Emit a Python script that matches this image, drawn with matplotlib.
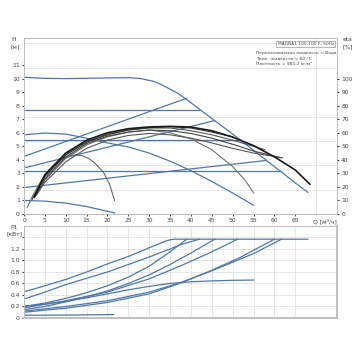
import matplotlib.pyplot as plt
import numpy as np

BLUE = '#4f78a8'

# control curves H(Q) (blue, upper)
q_max = [0, 5, 10, 15, 20, 25, 28, 31, 33, 35, 37, 39, 45, 50, 55, 60, 65, 68]
h_max = [10.1, 10.02, 10.0, 10.02, 10.05, 10.07, 10.0, 9.8, 9.55, 9.22, 8.88, 8.45, 7.05, 5.9, 4.7, 3.5, 2.3, 1.6]
q_pp1 = [0, 39]
h_pp1 = [4.25, 8.55]
q_cp1 = [0, 42]
h_cp1 = [7.7, 7.7]
q_auto = [0, 5, 10, 15, 20, 25, 30, 35, 40, 45, 50, 55]
h_auto = [5.85, 5.98, 5.9, 5.6, 5.25, 4.95, 4.5, 3.9, 3.2, 2.4, 1.55, 0.65]
q_cp2 = [0, 51.2]
h_cp2 = [5.5, 5.5]
q_pp2 = [0, 45.7]
h_pp2 = [3.4, 6.9]
q_cp3 = [0, 61.7]
h_cp3 = [3.15, 3.15]
q_pp3 = [0, 58]
h_pp3 = [1.95, 3.95]
q_min = [0, 5, 10, 15, 20, 21.7]
h_min = [1.0, 0.95, 0.8, 0.55, 0.2, 0.08]

# duty curves (black and grey, upper)
q_c0 = [2.5, 5, 10, 15, 20, 25, 30, 35, 40, 45, 50, 55, 60, 65, 68.5]
h_c0 = [1.3, 2.9, 4.5, 5.45, 6.0, 6.3, 6.43, 6.47, 6.42, 6.15, 5.68, 5.05, 4.22, 3.25, 2.2]
q_c1 = [2.5, 5, 10, 15, 20, 25, 30, 35, 40, 45, 50, 55, 57.7]
h_c1 = [1.35, 2.85, 4.4, 5.35, 5.9, 6.2, 6.35, 6.35, 6.15, 5.85, 5.45, 5.0, 4.75]
q_c2 = [2.5, 5, 10, 15, 20, 25, 30, 35, 40, 45, 50, 55, 61.5]
h_c2 = [1.2, 2.6, 4.2, 5.2, 5.75, 6.05, 6.2, 6.15, 5.95, 5.6, 5.15, 4.65, 4.15]
q_c3 = [3, 5, 10, 15, 20, 25, 30, 35, 40, 45, 50, 53, 55]
h_c3 = [1.45, 2.5, 4.1, 5.1, 5.7, 6.05, 6.2, 6.0, 5.55, 4.75, 3.5, 2.5, 1.55]
q_c4 = [3, 5, 10, 15, 20, 25, 30, 35, 40, 45, 50, 55, 60, 62]
h_c4 = [1.4, 2.35, 3.85, 4.85, 5.45, 5.8, 5.95, 5.85, 5.6, 5.25, 4.85, 4.5, 4.25, 4.15]
q_c5 = [2, 5, 10, 15, 20, 25, 30, 35, 40, 45, 50]
h_c5 = [1.1, 2.75, 4.35, 5.3, 5.85, 6.2, 6.38, 6.45, 6.35, 6.05, 5.7]
q_c6 = [0.8, 2, 4, 6, 8, 10, 11.5, 12.5, 14, 15.5, 17, 19, 20.5, 21.7]
h_c6 = [0.5, 1.3, 2.4, 3.25, 3.85, 4.2, 4.33, 4.37, 4.3, 4.1, 3.75, 3.1, 2.2, 1.0]

# power P1(Q) (blue, lower)
p_max_q = [0, 5, 10, 15, 20, 25, 30, 33, 34, 35, 36, 68]
p_max = [0.455, 0.56, 0.67, 0.8, 0.94, 1.07, 1.22, 1.31, 1.34, 1.36, 1.37, 1.37]
p_cp1_q = [0, 5, 10, 15, 20, 25, 30, 35, 37.3, 42]
p_cp1 = [0.33, 0.45, 0.58, 0.69, 0.8, 0.93, 1.06, 1.2, 1.27, 1.37]
p_pp1_q = [0, 5, 10, 15, 20, 25, 30, 35, 39]
p_pp1 = [0.2, 0.26, 0.34, 0.44, 0.56, 0.71, 0.9, 1.15, 1.37]
p_pp2_q = [0, 5, 10, 15, 20, 25, 30, 35, 40, 45.7]
p_pp2 = [0.145, 0.2, 0.28, 0.37, 0.47, 0.6, 0.75, 0.93, 1.13, 1.37]
p_cp2_q = [0, 10, 20, 30, 37.3, 45, 51.2]
p_cp2 = [0.175, 0.3, 0.45, 0.68, 0.9, 1.15, 1.37]
p_auto_q = [0, 5, 10, 15, 20, 25, 30, 35, 40, 45, 50, 55]
p_auto = [0.205, 0.24, 0.29, 0.35, 0.42, 0.49, 0.55, 0.6, 0.63, 0.645, 0.655, 0.66]
p_cp3_q = [0, 10, 20, 30, 37.3, 45, 55, 61.7]
p_cp3 = [0.12, 0.2, 0.3, 0.45, 0.61, 0.82, 1.12, 1.37]
p_pp3_q = [0, 10, 20, 30, 37.3, 45, 52, 60]
p_pp3 = [0.1, 0.17, 0.27, 0.42, 0.6, 0.83, 1.06, 1.37]
p_min_q = [0, 10, 21.5]
p_min = [0.047, 0.05, 0.06]

q_ticks = list(range(0, 70, 5))
h_ticks = list(range(0, 12))
eta_ticks = list(range(0, 110, 10))
p_ticks = [0, 0.2, 0.4, 0.6, 0.8, 1.0, 1.2, 1.4]
p_labels = ['0', '0.2', '0.4', '0.6', '0.8', '1.0', '1.2', '']

info_title = 'MAGNA1 100-100 F, 50Hz'
info_lines = ['Перекачиваемая жидкость = Вода',
              'Темп. жидкости = 60 °C',
              'Плотность = 983.2 кг/м³']

fs = 4.3
fs_info = 3.2
txt = '#444444'

fig = plt.figure(figsize=(3.6, 3.6), dpi=100)
fig.patch.set_facecolor('white')

ax = fig.add_axes([0.0667, 0.4056, 0.8694, 0.4889])
ax.set_xlim(0, 75)
ax.set_ylim(0, 13)
ax.set_xticks(q_ticks)
ax.set_yticks(h_ticks)
ax.set_xticks(np.arange(0, 75, 5), minor=True)
ax.set_yticks(np.arange(0, 13, 1.8), minor=True)
ax.grid(which='minor', color='#e2e2e2', lw=0.6)
ax.tick_params(which='major', labelsize=fs, length=1.5, pad=1.5, colors=txt)
ax.tick_params(which='minor', length=0)
for s in ax.spines.values():
    s.set_color('#bbbbbb')
    s.set_linewidth(0.7)

for q, h in [(q_max, h_max), (q_pp1, h_pp1), (q_cp1, h_cp1), (q_auto, h_auto),
             (q_cp2, h_cp2), (q_pp2, h_pp2), (q_cp3, h_cp3), (q_pp3, h_pp3),
             (q_min, h_min)]:
    ax.plot(q, h, color=BLUE, lw=0.9)

for q, h, c in [(q_c6, h_c6, '#666666'), (q_c3, h_c3, '#707070'),
                (q_c4, h_c4, '#555555'), (q_c2, h_c2, '#444444'),
                (q_c1, h_c1, '#555555'), (q_c5, h_c5, '#333333')]:
    ax.plot(q, h, color=c, lw=0.8)
ax.plot(q_c0, h_c0, color='#1a1a1a', lw=1.2)

ax2 = ax.twinx()
ax2.set_ylim(0, 130)
ax2.set_yticks(eta_ticks)
ax2.tick_params(labelsize=fs, length=1.5, pad=1.5, colors=txt)
for s in ax2.spines.values():
    s.set_visible(False)

ax.text(72, -0.35, 'Q [м³/ч]', fontsize=fs, color=txt, ha='center', va='top')

# info box
ax.text(74.3, 12.55, info_title, fontsize=fs_info, color=txt, ha='right', va='center',
        bbox=dict(boxstyle='square,pad=0.3', fc='white', ec='#aaaaaa', lw=0.6))
for i, line in enumerate(info_lines):
    ax.text(55.5, 11.9 - i * 0.4, line, fontsize=fs_info, color=txt, ha='left', va='center')

fig.text(0.039, 0.886, 'H', fontsize=fs, color=txt, ha='center')
fig.text(0.041, 0.866, '[м]', fontsize=fs, color=txt, ha='center')
fig.text(0.965, 0.886, 'eta', fontsize=fs, color=txt, ha='center')
fig.text(0.967, 0.866, '[%]', fontsize=fs, color=txt, ha='center')

bx = fig.add_axes([0.0667, 0.1167, 0.8694, 0.2556])
bx.set_xlim(0, 75)
bx.set_ylim(0, 1.6)
bx.set_xticks(q_ticks)
bx.set_xticklabels([])
bx.set_yticks(p_ticks)
bx.set_yticklabels(p_labels)
bx.grid(color='#e2e2e2', lw=0.6)
bx.tick_params(labelsize=fs, length=1.5, pad=1.5, colors=txt)
bx.tick_params(axis='x', length=0)
for s in bx.spines.values():
    s.set_color('#bbbbbb')
    s.set_linewidth(0.7)
bx.spines['right'].set_linewidth(1.3)
bx.spines['bottom'].set_linewidth(1.3)

for q, p in [(p_max_q, p_max), (p_cp1_q, p_cp1), (p_pp1_q, p_pp1), (p_pp2_q, p_pp2),
             (p_cp2_q, p_cp2), (p_auto_q, p_auto), (p_cp3_q, p_cp3), (p_pp3_q, p_pp3),
             (p_min_q, p_min)]:
    bx.plot(q, p, color=BLUE, lw=0.9)

fig.text(0.039, 0.364, 'P1', fontsize=fs, color=txt, ha='center')
fig.text(0.041, 0.345, '[кВт]', fontsize=fs, color=txt, ha='center')

fig.savefig('out.png', dpi=100)
